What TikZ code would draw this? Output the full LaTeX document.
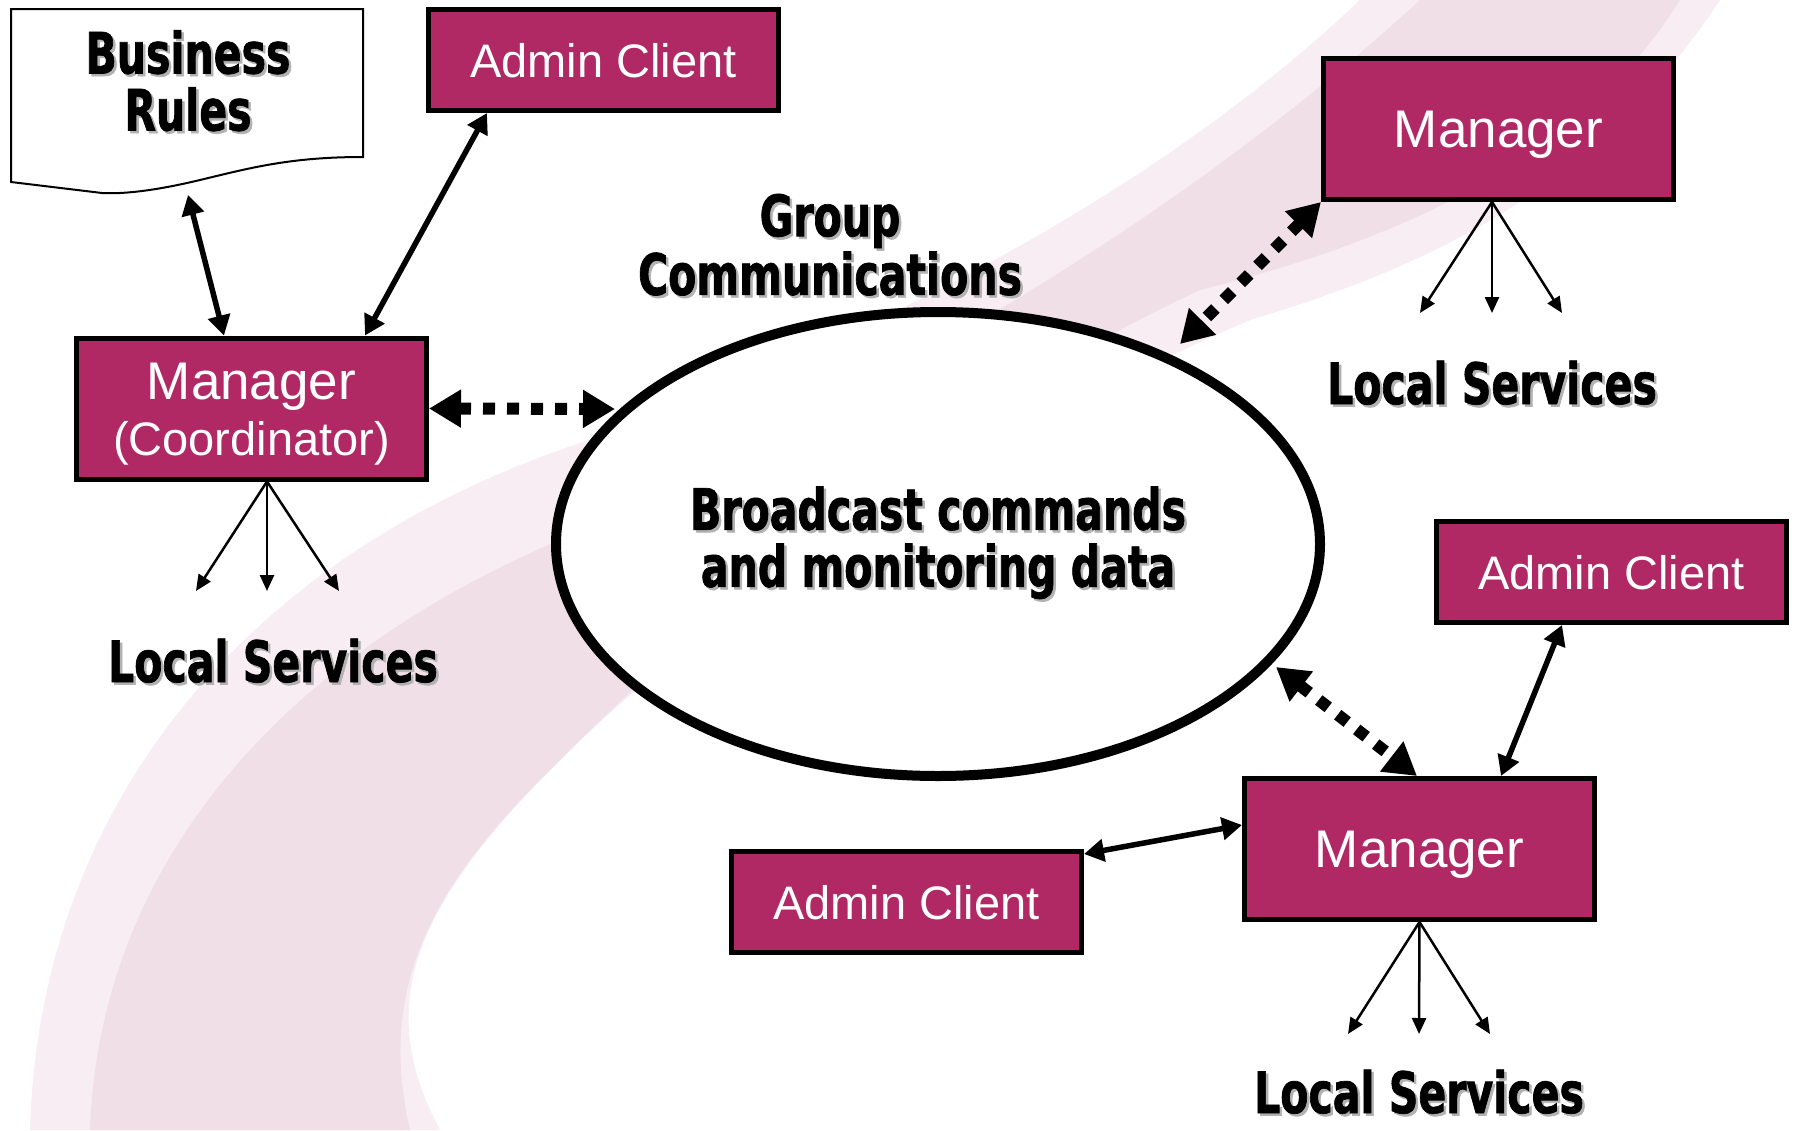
\documentclass[tikz,border=0pt]{standalone}
\usepackage{fontspec}
\setmainfont{Liberation Sans}
\newfontfamily\hand[FakeStretch=0.72,FakeBold=1.2]{DejaVu Sans}
\usetikzlibrary{arrows.meta,shapes.geometric}
\definecolor{boxfill}{RGB}{176,41,101}
\definecolor{swooshA}{RGB}{247,237,242}
\definecolor{swooshB}{RGB}{241,223,232}
\newcommand\shd[1]{\makebox[0pt][l]{\kern2.5pt\raisebox{-2.5pt}{\textcolor{black!30}{#1}}}#1}
\begin{document}
\begin{tikzpicture}[x=1pt,y=-1pt,
  box/.style={draw=black,line width=5pt,fill=boxfill,text=white,inner sep=0pt,minimum width=350pt},
  acbox/.style={box,minimum height=101pt,font=\fontsize{47}{47}\selectfont,text depth=0pt},
  mgbox/.style={box,minimum height=141pt,font=\fontsize{53}{53}\selectfont,text depth=0pt},
  boxtxt/.style={text=white,align=center,inner sep=0pt,font=\fontsize{53}{53}\selectfont},
  handtxt/.style={align=center,inner sep=0pt,font=\hand\bfseries\fontsize{57}{57}\selectfont},
  solidlink/.style={line width=5.5pt,{Triangle[length=20pt,width=22pt]}-{Triangle[length=20pt,width=22pt]}},
  dotlink/.style={line width=12pt,dash pattern=on 12pt off 12pt,{Triangle[length=32pt,width=36pt]}-{Triangle[length=32pt,width=36pt]}},
  svc/.style={line width=2.5pt,-{Triangle[length=16pt,width=14pt]}}]
\useasboundingbox (0,0) rectangle (1794,1130);
\fill[white] (0,0) rectangle (1794,1130);
% background swoosh (two tones)
\fill[swooshA] (30,1130) .. controls (40,800) and (250,560) .. (560,450)
  .. controls (850,350) and (1150,200) .. (1360,0) -- (1720,0)
  .. controls (1600,180) and (1450,260) .. (1250,320)
  .. controls (950,450) and (700,620) .. (560,760)
  .. controls (420,900) and (370,1000) .. (440,1130) -- cycle;
\fill[swooshB] (90,1130) .. controls (100,850) and (300,650) .. (560,540)
  .. controls (900,380) and (1180,220) .. (1420,0) -- (1680,0)
  .. controls (1580,160) and (1400,240) .. (1200,290)
  .. controls (900,430) and (680,640) .. (540,780)
  .. controls (420,900) and (380,1000) .. (410,1130) -- cycle;
% business rules document
\draw[line width=2pt,fill=white] (11,9) -- (363,9) -- (363,157)
  .. controls (290,157) and (250,168) .. (200,180)
  .. controls (150,192) and (120,194) .. (102,193) -- (11,182) -- cycle;
\node[handtxt] (rules) at (188,82) {\shd{Business}\\\shd{Rules}};
% boxes
\node[acbox] (act) at (603.5,60) {Admin Client};
\node[mgbox] (mc) at (251.5,408.5) {};
\node[boxtxt] (mctxt) at (251.5,414) {Manager\\[3pt]{\fontsize{47}{47}\selectfont(Coordinator)}};
\node[mgbox] (mtr) at (1498.5,129) {Manager};
\node[acbox] (acr) at (1611.5,572) {Admin Client};
\node[mgbox] (mbr) at (1419.5,849) {Manager};
\node[acbox] (acbl) at (906.5,902) {Admin Client};
% ellipse
\node[ellipse,draw,line width=10pt,fill=white,minimum width=764pt,minimum height=464pt,handtxt] (ell) at (938,544)
  {\shd{Broadcast commands}\\\shd{and monitoring data}};
% labels
\node[handtxt] (grp) at (830,246) {\shd{Group}\\\shd{Communications}};
\node[handtxt] (ls1) at (273,662) {\shd{Local Services}};
\node[handtxt] (ls2) at (1492,384) {\shd{Local Services}};
\node[handtxt] (ls3) at (1419,1093) {\shd{Local Services}};
% coordinates
\coordinate (docb) at (188,195);
\coordinate (e1) at (615,409);
\coordinate (e2) at (1180,344);
\coordinate (e3) at (1276,667);
\coordinate (s1a) at (196,591); \coordinate (s1b) at (267,591); \coordinate (s1c) at (339,591);
\coordinate (s2a) at (1420,313); \coordinate (s2b) at (1492,313); \coordinate (s2c) at (1562,313);
\coordinate (s3a) at (1348,1034); \coordinate (s3b) at (1419,1034); \coordinate (s3c) at (1490,1034);
% connectors
\draw[solidlink] (docb) -- ([xshift=-27.5pt]mc.north);
\draw[solidlink] ([xshift=-116.5pt]act.south) -- ([xshift=113.5pt]mc.north);
\draw[dotlink] (mc.east) -- (e1);
\draw[dotlink] (mtr.south west) -- (e2);
\draw[dotlink] (e3) -- ([xshift=-2.5pt]mbr.north);
\draw[solidlink] ([xshift=-49.5pt]acr.south) -- ([xshift=81.5pt]mbr.north);
\draw[solidlink] ([yshift=48pt]acbl.east) -- ([yshift=24pt]mbr.west);
\foreach \t in {s1a,s1b,s1c} \draw[svc] ([xshift=15.5pt]mc.south) -- (\t);
\foreach \t in {s2a,s2b,s2c} \draw[svc] ([xshift=-6.5pt]mtr.south) -- (\t);
\foreach \t in {s3a,s3b,s3c} \draw[svc] (mbr.south) -- (\t);
\end{tikzpicture}
\end{document}
